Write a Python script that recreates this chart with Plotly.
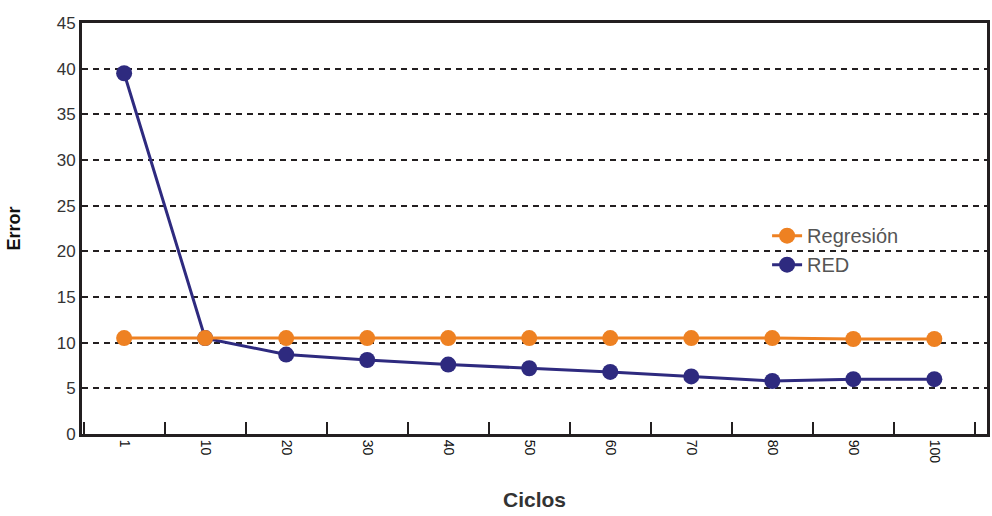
import plotly.graph_objects as go

ciclos = ["1", "10", "20", "30", "40", "50", "60", "70", "80", "90", "100"]
regresion = [10.5, 10.5, 10.5, 10.5, 10.5, 10.5, 10.5, 10.5, 10.5, 10.4, 10.4]
red = [39.5, 10.5, 8.7, 8.1, 7.6, 7.2, 6.8, 6.3, 5.8, 6.0, 6.0]

orange = "#EE8122"
navy = "#2E2A7F"
axis_col = "#231f20"

fig = go.Figure()
fig.add_trace(go.Scatter(x=ciclos, y=red, name="RED", mode="lines+markers",
                         line=dict(color=navy, width=3),
                         marker=dict(color=navy, size=16)))
fig.add_trace(go.Scatter(x=ciclos, y=regresion, name="Regresión", mode="lines+markers",
                         line=dict(color=orange, width=3),
                         marker=dict(color=orange, size=16)))

fig.update_layout(
    width=992, height=516,
    margin=dict(l=82, r=2, t=23, b=82),
    paper_bgcolor="white", plot_bgcolor="white",
    font=dict(family="Liberation Sans, Arial, sans-serif", color="#333333"),
    showlegend=True,
    legend=dict(x=0.757, y=0.53, xanchor="left", yanchor="top",
                traceorder="reversed",
                font=dict(size=20, color="#555555"),
                bgcolor="rgba(0,0,0,0)", itemwidth=30,
                tracegroupgap=0),
    xaxis=dict(
        type="category",
        range=[-0.52, 10.65],
        showgrid=False,
        showline=True, linecolor=axis_col, linewidth=3, mirror=True,
        ticks="inside", ticklen=12, tickwidth=2, tickcolor=axis_col,
        tickson="boundaries",
        tickangle=90,
        tickfont=dict(size=14, color="#111111"),
        title=dict(text="<b>Ciclos</b>", font=dict(size=21, color="#333333"), standoff=30),
        zeroline=False,
    ),
    yaxis=dict(
        range=[0, 45],
        tickvals=[0, 5, 10, 15, 20, 25, 30, 35, 40, 45],
        showgrid=True, gridcolor=axis_col, gridwidth=2, griddash="6px,5px",
        showline=True, linecolor=axis_col, linewidth=3, mirror=True,
        ticks="", ticklen=0,
        tickfont=dict(size=17, color="#333333"),
        title=dict(text="<b>Error</b>", font=dict(size=18, color="#111111"), standoff=32),
        zeroline=False,
    ),
)

fig.write_html("out.html")
